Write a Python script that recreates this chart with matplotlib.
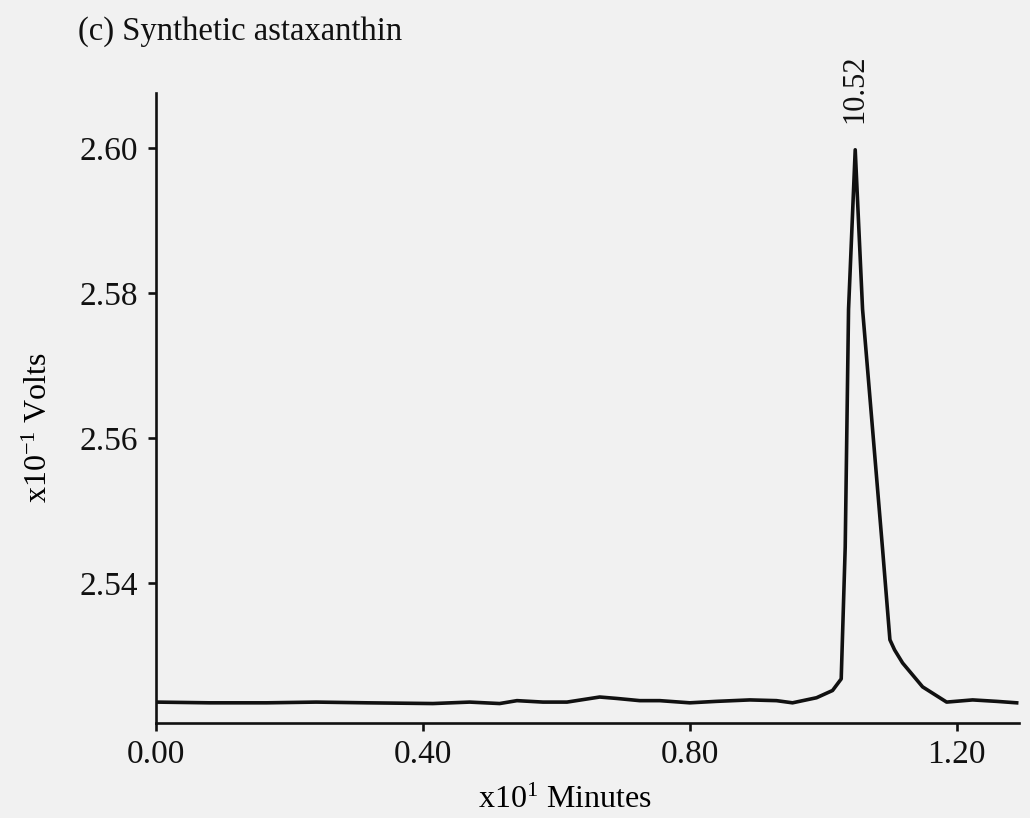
import matplotlib
matplotlib.use("Agg")
import matplotlib.pyplot as plt

# trace (x10 min, x10^-1 V)
times = [0.000, 0.080, 0.166, 0.240, 0.316, 0.415, 0.470, 0.515, 0.541, 0.580,
         0.616, 0.665, 0.691, 0.725, 0.755, 0.800, 0.840, 0.890, 0.930, 0.954,
         0.990, 1.014, 1.027, 1.033, 1.038, 1.048, 1.059, 1.089, 1.100, 1.107,
         1.119, 1.149, 1.185, 1.224, 1.260, 1.290]
volts = [2.5236, 2.5235, 2.5235, 2.5236, 2.5235, 2.5234, 2.5236, 2.5234, 2.5238, 2.5236,
         2.5236, 2.5243, 2.5241, 2.5238, 2.5238, 2.5235, 2.5237, 2.5239, 2.5238, 2.5235,
         2.5242, 2.5252, 2.5268, 2.5450, 2.5778, 2.5998, 2.5778, 2.5447, 2.5322, 2.5308,
         2.5290, 2.5257, 2.5236, 2.5239, 2.5237, 2.5235]

peak_time = 1.048
peak_volt = 2.5998
peak_label = "10.52"

xticks = [0.0, 0.4, 0.8, 1.2]
xticklabels = ["0.00", "0.40", "0.80", "1.20"]
yticks = [2.54, 2.56, 2.58, 2.60]
yticklabels = ["2.54", "2.56", "2.58", "2.60"]

plt.rcParams['font.family'] = ['Liberation Serif', 'DejaVu Serif']
plt.rcParams['mathtext.fontset'] = 'custom'
plt.rcParams['mathtext.rm'] = 'Liberation Serif'
plt.rcParams['mathtext.it'] = 'Liberation Serif'

bg = '#f1f1f1'
ink = '#111111'
fig = plt.figure(figsize=(10.30, 8.18), dpi=100, facecolor=bg)
ax = fig.add_axes([0.1515, 0.116, 0.8375, 0.770], facecolor=bg)

ax.plot(times, volts, color=ink, lw=2.6, solid_joinstyle='round')

ax.set_xlim(0, 1.293)
ax.set_ylim(2.5207, 2.6076)
ax.set_xticks(xticks)
ax.set_xticklabels(xticklabels)
ax.set_yticks(yticks)
ax.set_yticklabels(yticklabels)

for side in ['top', 'right']:
    ax.spines[side].set_visible(False)
for side in ['left', 'bottom']:
    ax.spines[side].set_linewidth(1.9)
    ax.spines[side].set_color(ink)

ax.tick_params(axis='both', direction='out', length=6, width=1.9,
               labelsize=24, colors=ink)
ax.tick_params(axis='x', pad=6)
ax.tick_params(axis='y', pad=7)

ax.set_xlabel("x10$^{1}$ Minutes", fontsize=23)
ax.xaxis.set_label_coords(0.474, -0.100)
ax.set_ylabel("x10$^{-1}$ Volts", fontsize=23)
ax.yaxis.set_label_coords(-0.118, 0.47)

ax.annotate(peak_label, (peak_time, peak_volt), xytext=(0, 19),
            textcoords='offset points', rotation=90, ha='center', va='bottom',
            fontsize=22, color=ink)

fig.text(0.0757, 0.951, "(c) Synthetic astaxanthin", fontsize=23.5,
         ha='left', va='baseline', color=ink)

fig.savefig("out.png", dpi=100, facecolor=bg)
